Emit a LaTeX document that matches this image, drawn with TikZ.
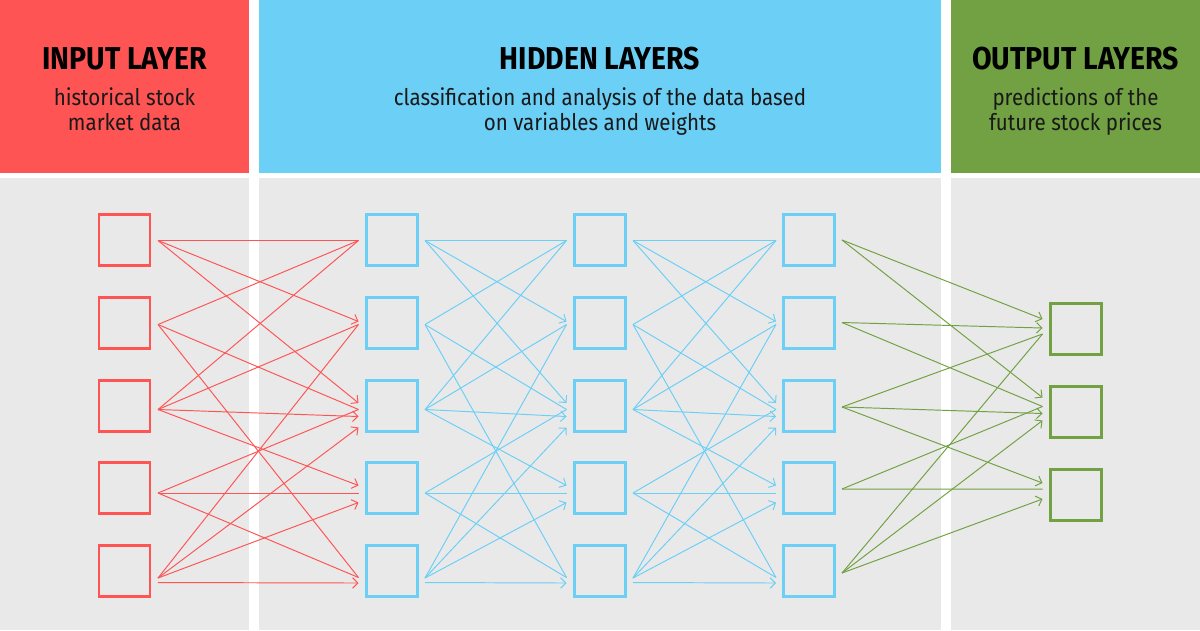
\documentclass[tikz,border=0pt]{standalone}
\usepackage{fontspec}
\setmainfont{Fira Sans}[FakeStretch=0.9]
\usetikzlibrary{arrows.meta, calc}
\definecolor{cred}{HTML}{FF5454}
\definecolor{cblue}{HTML}{6CCFF6}
\definecolor{cgreen}{HTML}{71A142}
\definecolor{cpanel}{HTML}{E9E9E9}
\tikzset{
  every picture/.style={line width=0.6pt},
  unit/.style={draw=#1, line width=1.7pt, minimum size=1.02cm, inner sep=0pt},
  link/.style={draw=#1, line width=0.55pt},
  arrow/.style={link=#1, -{Straight Barb[length=3pt, width=6pt]}},
  title/.style={font=\bfseries\fontsize{18}{21}\selectfont, anchor=base},
  note/.style={font=\fontsize{13}{14.2}\selectfont, align=center, anchor=base, text=black!90},
}

\begin{document}
\begin{tikzpicture}
  \useasboundingbox (0,0) rectangle (24,-12.6);
  \fill[cred] (0,0) rectangle (4.98,-3.46);
  \fill[cblue] (5.18,0) rectangle (18.82,-3.46);
  \fill[cgreen] (19.02,0) rectangle (24,-3.46);
  \foreach \l/\r in {0/4.98, 5.18/18.82, 19.02/24} \fill[cpanel] (\l,-3.56) rectangle (\r,-12.6);
  \node[title] (tin) at (2.49,-1.38) {INPUT LAYER};
  \node[note] (nin) at (2.49,-2.60) {historical stock\\market data};
  \node[title] (thid) at (12,-1.38) {HIDDEN LAYERS};
  \node[note] (nhid) at (12,-2.60) {classification and analysis of the data based\\on variables and weights};
  \node[title] (tout) at (21.51,-1.38) {OUTPUT LAYERS};
  \node[note] (nout) at (21.51,-2.60) {predictions of the\\future stock prices};
  \foreach \k/\y in {1/-4.80, 2/-6.45, 3/-8.11, 4/-9.76, 5/-11.41} {
    \node[unit=cred] (i\k) at (2.49,\y) {};
    \node[unit=cblue] (h1\k) at (7.83,\y) {};
    \node[unit=cblue] (h2\k) at (11.99,\y) {};
    \node[unit=cblue] (h3\k) at (16.18,\y) {};
  }
  \foreach \k/\y in {1/-6.58, 2/-8.23, 3/-9.89} \node[unit=cgreen] (o\k) at (21.51,\y) {};
  \foreach \a/\b/\c in {i/h1/cred, h1/h2/cblue, h2/h3/cblue}
    \foreach \s/\t/\ds/\dt/\st in {1/1/-0.01/-0.01/link, 1/2/-0.01/0.02/arrow, 1/3/-0.01/0.05/arrow,
        2/1/-0.04/-0.01/link, 2/3/-0.04/-0.08/link, 2/5/-0.04/-0.14/link,
        3/1/-0.08/-0.01/link, 3/2/-0.08/-0.04/link, 3/3/-0.08/-0.22/arrow, 3/4/-0.08/0.05/arrow,
        4/3/-0.10/-0.08/link, 4/4/-0.10/-0.10/link, 4/5/-0.10/-0.14/link,
        5/2/-0.15/-0.04/link, 5/3/-0.15/-0.44/arrow, 5/4/-0.15/-0.29/arrow, 5/5/-0.24/-0.25/arrow}
      \draw[\st=\c] ($(\a\s.east)+(0.13,\ds)$) -- ($(\b\t.west)+(-0.12,\dt)$);
  \foreach \s/\t/\ds/\dt/\st in {1/1/0/0.20/arrow, 1/2/0/0.28/arrow, 2/1/0/0.02/arrow, 2/2/0/0.10/link,
      3/1/-0.03/-0.10/link, 3/2/-0.03/-0.04/arrow, 3/3/-0.03/0.23/arrow,
      4/2/-0.02/0.10/link, 4/3/-0.02/0.11/link,
      5/1/-0.05/-0.10/link, 5/2/-0.05/-0.18/arrow, 5/3/-0.05/-0.09/arrow}
    \draw[\st=cgreen] ($(h3\s.east)+(0.12,\ds)$) -- ($(o\t.west)+(-0.12,\dt)$);
\end{tikzpicture}
\end{document}
